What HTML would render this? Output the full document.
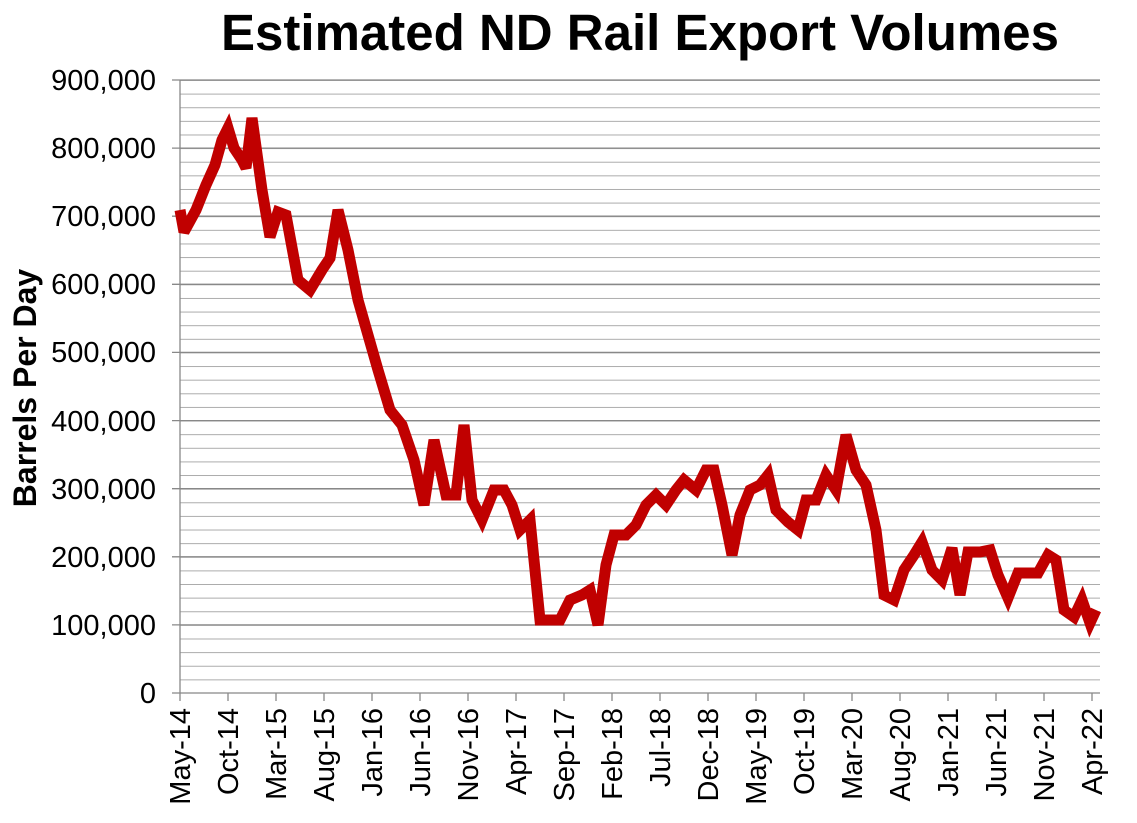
<!DOCTYPE html>
<html><head><meta charset="utf-8"><style>
body{margin:0;background:#fff;}
svg text{font-family:"Liberation Sans",Arial,sans-serif;}
</style></head><body>
<svg width="1137" height="818" viewBox="0 0 1137 818" xmlns="http://www.w3.org/2000/svg">
<defs>
<pattern id="mg" x="0" y="80" width="920" height="13.6222" patternUnits="userSpaceOnUse">
<line x1="0" y1="0.5" x2="920" y2="0.5" stroke="#aaa" stroke-width="1"/>
</pattern>
</defs>
<rect width="1137" height="818" fill="#fff"/>
<text x="640" y="50" font-size="51" font-weight="bold" text-anchor="middle">Estimated ND Rail Export Volumes</text>
<rect x="180" y="80" width="920" height="613" fill="url(#mg)"/>
<g stroke="#888" stroke-width="1.3">
<line x1="172" y1="80" x2="1100" y2="80"/>
<line x1="172" y1="148.1" x2="1100" y2="148.1"/>
<line x1="172" y1="216.2" x2="1100" y2="216.2"/>
<line x1="172" y1="284.3" x2="1100" y2="284.3"/>
<line x1="172" y1="352.4" x2="1100" y2="352.4"/>
<line x1="172" y1="420.6" x2="1100" y2="420.6"/>
<line x1="172" y1="488.7" x2="1100" y2="488.7"/>
<line x1="172" y1="556.8" x2="1100" y2="556.8"/>
<line x1="172" y1="624.9" x2="1100" y2="624.9"/>
<line x1="172" y1="693" x2="1100" y2="693"/>
<line x1="180" y1="80" x2="180" y2="701"/>
<path d="M228 693v8M276 693v8M324 693v8M372 693v8M420 693v8M468 693v8M516 693v8M564 693v8M612 693v8M660 693v8M708 693v8M756 693v8M804 693v8M852 693v8M900 693v8M948 693v8M996 693v8M1044 693v8M1092 693v8"/>
</g>
<text transform="translate(36,388) rotate(-90)" font-size="32" font-weight="bold" text-anchor="middle">Barrels Per Day</text>
<g font-size="29" text-anchor="end">
<text x="156" y="90">900,000</text>
<text x="156" y="158">800,000</text>
<text x="156" y="226">700,000</text>
<text x="156" y="294">600,000</text>
<text x="156" y="362">500,000</text>
<text x="156" y="431">400,000</text>
<text x="156" y="499">300,000</text>
<text x="156" y="567">200,000</text>
<text x="156" y="635">100,000</text>
<text x="156" y="703">0</text>
</g>
<g font-size="29" text-anchor="end">
<text transform="translate(190,708) rotate(-90)">May-14</text>
<text transform="translate(238,708) rotate(-90)">Oct-14</text>
<text transform="translate(286,708) rotate(-90)">Mar-15</text>
<text transform="translate(334,708) rotate(-90)">Aug-15</text>
<text transform="translate(382,708) rotate(-90)">Jan-16</text>
<text transform="translate(430,708) rotate(-90)">Jun-16</text>
<text transform="translate(478,708) rotate(-90)">Nov-16</text>
<text transform="translate(526,708) rotate(-90)">Apr-17</text>
<text transform="translate(574,708) rotate(-90)">Sep-17</text>
<text transform="translate(622,708) rotate(-90)">Feb-18</text>
<text transform="translate(670,708) rotate(-90)">Jul-18</text>
<text transform="translate(718,708) rotate(-90)">Dec-18</text>
<text transform="translate(766,708) rotate(-90)">May-19</text>
<text transform="translate(814,708) rotate(-90)">Oct-19</text>
<text transform="translate(862,708) rotate(-90)">Mar-20</text>
<text transform="translate(910,708) rotate(-90)">Aug-20</text>
<text transform="translate(958,708) rotate(-90)">Jan-21</text>
<text transform="translate(1006,708) rotate(-90)">Jun-21</text>
<text transform="translate(1054,708) rotate(-90)">Nov-21</text>
<text transform="translate(1102,708) rotate(-90)">Apr-22</text>
</g>
<polyline fill="none" stroke="#c00000" stroke-width="11" stroke-linejoin="miter" stroke-miterlimit="3" points="180,210 184,232 196,210 206,185 215,165 222,140 228,128 234,148 242,160 246,168 252,118 262,190 270,237 278,212 286,215 298,280 310,290 322,270 330,258 338,210 348,250 358,300 368,335 378,370 390,410 402,425 414,460 424,505 434,440 446,495 456,495 464,425 472,500 482,520 494,490 504,490 512,505 520,530 530,520 540,620 554,620 560,620 570,600 582,595 590,590 598,625 606,565 614,535 626,535 636,525 646,505 656,495 666,505 676,490 684,480 696,490 706,470 714,470 722,505 732,555 740,515 750,490 760,485 768,475 776,510 788,522 798,530 806,500 816,500 826,475 836,490 846,435 856,470 866,485 876,530 884,595 894,600 904,570 914,555 922,542 932,570 942,580 952,548 960,595 968,552 980,552 990,550 998,575 1008,598 1018,573 1030,573 1038,573 1048,555 1056,560 1064,610 1074,617 1082,600 1090,623 1096,610"/>
</svg>
</body></html>
